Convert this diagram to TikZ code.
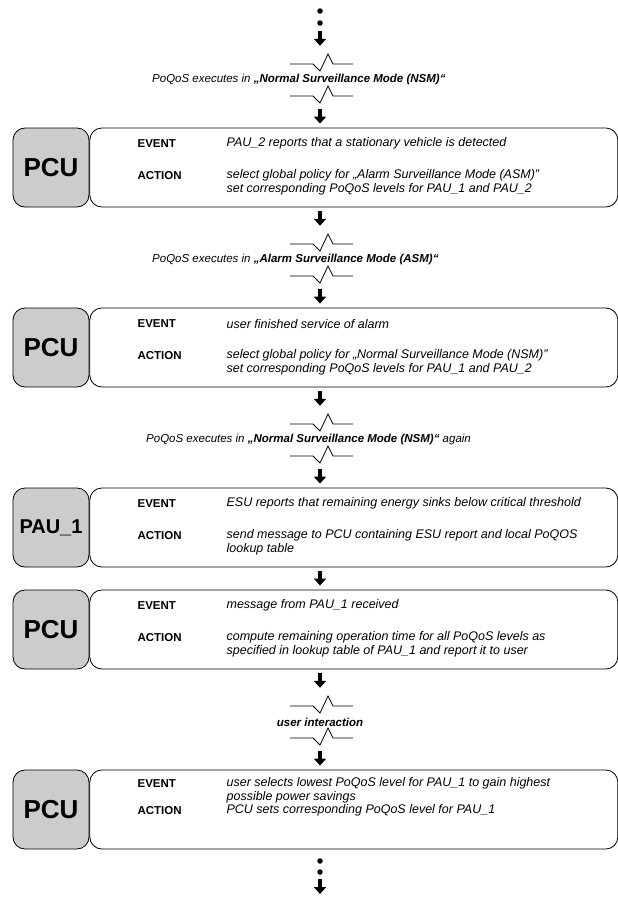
\documentclass[tikz,border=0pt]{standalone}
\usepackage{fontspec}
\setmainfont{Liberation Sans}
\usepackage{tikz}
\usetikzlibrary{arrows.meta,positioning,calc}

\tikzset{brk/.pic={\draw[line width=0.8bp] (-30,0) -- (-7,0) -- (0,7) -- (8,-10) -- (13,0) -- (33,0);}}

\begin{document}
\begin{tikzpicture}[x=1bp,y=-1bp,font=\fontsize{11.5bp}{13.5bp}\selectfont,
  unitbox/.style={draw,line width=0.8bp,fill=black!20,rounded corners=12bp,minimum width=76bp,
    minimum height=79bp,inner sep=0pt,font=\fontsize{26bp}{30bp}\selectfont\bfseries},
  evbox/.style={draw,line width=0.8bp,rounded corners=12bp,minimum width=528bp,minimum height=79bp,inner sep=0pt},
  lab/.style={anchor=west,inner sep=0pt,font=\fontsize{11.5bp}{13.5bp}\selectfont\bfseries},
  desc/.style={anchor=west,align=left,inner sep=0pt,font=\fontsize{12.5bp}{13.5bp}\selectfont\itshape},
  brktxt/.style={anchor=west,inner sep=0pt,minimum height=52bp,font=\fontsize{11.5bp}{13.5bp}\selectfont\itshape},
  blkarrow/.style={line width=4bp,-{Triangle[length=7bp,width=12bp]}},
  blkdot/.style={circle,fill,inner sep=0pt,minimum size=5.5bp}]
\useasboundingbox (0,0) rectangle (618,898);

\node[blkdot] (d1) at (320,11) {};
\node[blkdot] (d2) at (320,23) {};

% NSM
\pic at (320,64) {brk};
\node[brktxt] (b1) at (152,80) {PoQoS executes in \textbf{„Normal Surveillance Mode (NSM)“}};
\pic at (320,96) {brk};

\node[unitbox] (u1) at (51,167.5) {PCU};
\node[evbox,right=0pt of u1] (e1) {};
\node[lab] (el1) at ($(e1.north west)+(48,16)$) {EVENT};
\node[desc] (et1) at ($(e1.north west)+(137,16)$) {PAU\_2 reports that a stationary vehicle is detected};
\node[lab] (al1) at ($(e1.north west)+(48,48)$) {ACTION};
\node[desc] (at1) at ($(e1.north west)+(137,54.5)$) {select global policy for „Alarm Surveillance Mode (ASM)"\\set corresponding PoQoS levels for PAU\_1 and PAU\_2};

% ASM
\pic at (320,244) {brk};
\node[brktxt] (b2) at (152,260) {PoQoS executes in \textbf{„Alarm Surveillance Mode (ASM)“}};
\pic at (320,276) {brk};

\node[unitbox] (u2) at (51,347.5) {PCU};
\node[evbox,right=0pt of u2] (e2) {};
\node[lab] (el2) at ($(e2.north west)+(48,16)$) {EVENT};
\node[desc] (et2) at ($(e2.north west)+(137,16)$) {user finished service of alarm};
\node[lab] (al2) at ($(e2.north west)+(48,48)$) {ACTION};
\node[desc] (at2) at ($(e2.north west)+(137,54.5)$) {select global policy for „Normal Surveillance Mode (NSM)"\\set corresponding PoQoS levels for PAU\_1 and PAU\_2};

% NSM again
\pic at (320,424) {brk};
\node[brktxt] (b3) at (146,440) {PoQoS executes in \textbf{„Normal Surveillance Mode (NSM)“} again};
\pic at (320,456) {brk};

\node[unitbox,font=\fontsize{20bp}{24bp}\selectfont\bfseries] (u3) at (51,527.5) {PAU\_1};
\node[evbox,right=0pt of u3] (e3) {};
\node[lab] (el3) at ($(e3.north west)+(48,16)$) {EVENT};
\node[desc] (et3) at ($(e3.north west)+(137,16)$) {ESU reports that remaining energy sinks below critical threshold};
\node[lab] (al3) at ($(e3.north west)+(48,48)$) {ACTION};
\node[desc] (at3) at ($(e3.north west)+(137,54.5)$) {send message to PCU containing ESU report and local PoQOS\\lookup table};

\node[unitbox] (u4) at (51,629.5) {PCU};
\node[evbox,right=0pt of u4] (e4) {};
\node[lab] (el4) at ($(e4.north west)+(48,16)$) {EVENT};
\node[desc] (et4) at ($(e4.north west)+(137,16)$) {message from PAU\_1 received};
\node[lab] (al4) at ($(e4.north west)+(48,48)$) {ACTION};
\node[desc] (at4) at ($(e4.north west)+(137,54.5)$) {compute remaining operation time for all PoQoS levels as\\specified in lookup table of PAU\_1 and report it to user};

% user
\pic at (320,706) {brk};
\node[brktxt,anchor=center] (b4) at (320,722) {\textbf{user interaction}};
\pic at (320,738) {brk};

\node[unitbox] (u5) at (51,809.5) {PCU};
\node[evbox,right=0pt of u5] (e5) {};
\node[lab] (el5) at ($(e5.north west)+(48,14)$) {EVENT};
\node[desc] (et5) at ($(e5.north west)+(137,20.5)$) {user selects lowest PoQoS level for PAU\_1 to gain highest\\possible power savings};
\node[lab] (al5) at ($(e5.north west)+(48,41)$) {ACTION};
\node[desc] (at5) at ($(e5.north west)+(137,41)$) {PCU sets corresponding PoQoS level for PAU\_1};

\node[blkdot] (d3) at (320,861) {};
\node[blkdot] (d4) at (320,872) {};
\coordinate (tail) at (320,894);

\draw[blkarrow,shorten <=5bp,shorten >=8bp] (d2) -- (b1.north -| d2);
\draw[blkarrow,shorten <=3bp,shorten >=4bp] (b1.south -| d2) -- (e1.north -| d2);
\draw[blkarrow,shorten <=4bp,shorten >=8bp] (e1.south -| d2) -- (b2.north -| d2);
\draw[blkarrow,shorten <=3bp,shorten >=4bp] (b2.south -| d2) -- (e2.north -| d2);
\draw[blkarrow,shorten <=4bp,shorten >=8bp] (e2.south -| d2) -- (b3.north -| d2);
\draw[blkarrow,shorten <=3bp,shorten >=4bp] (b3.south -| d2) -- (e3.north -| d2);
\draw[blkarrow,shorten <=4bp,shorten >=4bp] (e3.south -| d2) -- (e4.north -| d2);
\draw[blkarrow,shorten <=4bp,shorten >=8bp] (e4.south -| d2) -- (b4.north -| d2);
\draw[blkarrow,shorten <=3bp,shorten >=4bp] (b4.south -| d2) -- (e5.north -| d2);
\draw[blkarrow,shorten <=4bp] (d4) -- (tail);
\end{tikzpicture}
\end{document}
